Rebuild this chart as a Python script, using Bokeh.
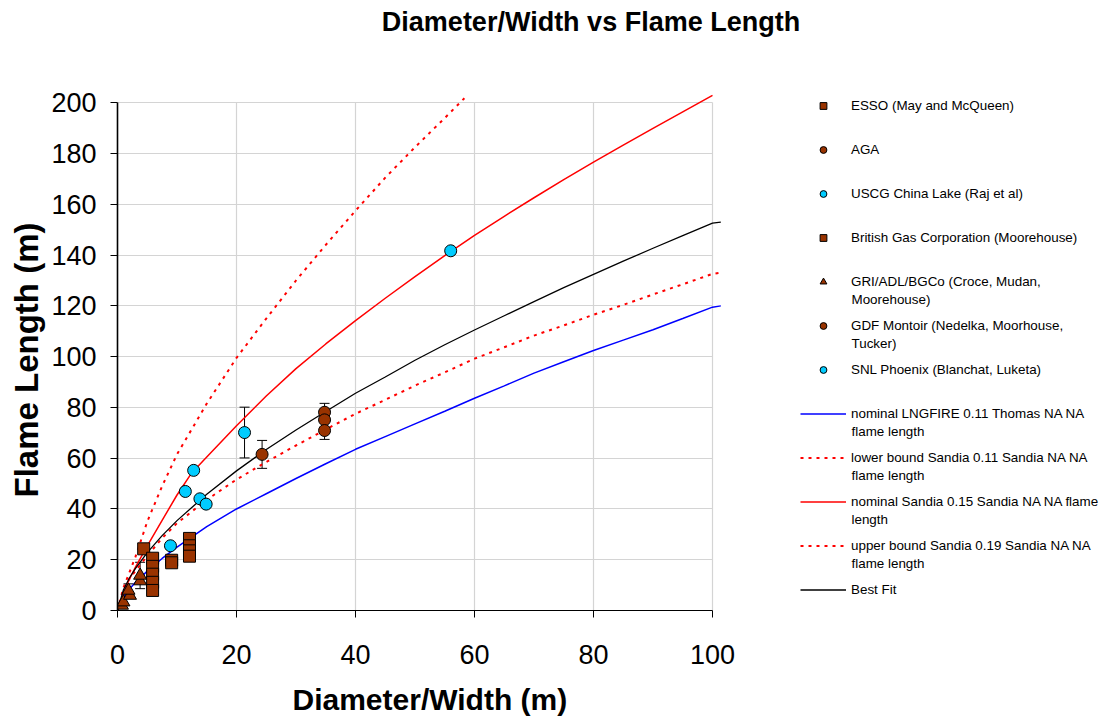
from bokeh.plotting import figure
from bokeh.models import (Range1d, FixedTicker, Legend, LegendItem, Label, Title,
                          Whisker, TeeHead, ColumnDataSource, Grid)
from bokeh.embed import file_html
from bokeh.resources import INLINE

# ---------------- experimental data: diameter/width (m), flame length (m) ----------------
esso_d = [4.4, 5.9, 5.9, 5.9, 5.9, 5.9, 9.1, 9.1]
esso_l = [24.3, 20.6, 17.4, 14.3, 11.1, 7.9, 19.8, 18.8]

aga_d = [24.3]
aga_l = [61.5]
aga_err = [5.5]

uscg_d = [8.9, 11.4, 12.8, 13.85, 14.9]
uscg_l = [25.5, 46.9, 55.2, 44.0, 41.9]

bgc_d = [12.1, 12.1, 12.1, 12.1]
bgc_l = [28.4, 25.5, 23.5, 21.4]

gri_d = [0.75, 1.0, 2.1, 1.85, 3.8, 3.8]
gri_l = [2.0, 3.3, 5.9, 7.9, 11.6, 13.8]
gri_err = [None, None, None, 2.6, None, 5.2]

gdf_d = [34.8, 34.8, 34.8]
gdf_l = [78.1, 75.1, 70.9]
gdf_err = [3.5, 3.5, 3.5]

snl_d = [21.35, 56.0]
snl_l = [70.1, 141.7]
snl_err = [10.0, None]

# ---------------- model curves ----------------
curve_d = [0, 1, 2, 3, 5, 7.5, 10, 15, 20, 25, 30, 35, 40, 45, 50, 55, 60,
           65, 70, 75, 80, 85, 90, 95, 100, 101.4]
lngfire_nominal = [0, 5.3, 8.5, 11, 15.5, 20.5, 25, 33, 40, 46, 52, 57.8, 63.5,
                   68.5, 73.5, 78.5, 83.6, 88.5, 93.5, 98, 102.4, 106.5, 110.6,
                   115, 119.5, 120]
sandia_lower = [0, 8, 12.5, 15.5, 21.5, 28.5, 34.4, 43.6, 51.6, 58.5, 65, 71.3,
                77.5, 83, 88.6, 93.8, 99.2, 103.7, 108.3, 112.3, 116.5, 120.4,
                124.5, 128.5, 132.6, 133.1]
best_fit = [0, 8.2, 12.8, 16.5, 22.8, 29.5, 35.4, 45.8, 55, 63.4, 71.1, 78.4,
            85.6, 92, 98.6, 104.7, 110.5, 116.1, 121.7, 127.2, 132.4, 137.6, 142.7,
            147.7, 152.6, 153]

sandia_nominal_d = [0, 1, 2, 3, 5, 7.5, 10, 12.5, 15, 20, 25, 30, 35, 40, 45,
                    50, 55, 60, 65, 70, 75, 80, 85, 90, 95, 100]
sandia_nominal = [0, 7, 12.3, 17, 25.5, 35.5, 45.5, 54.3, 60.5, 72.8, 84.5, 95.3,
                  105, 114.2, 123, 131.5, 139.8, 147.8, 155.3, 162.6, 169.7,
                  176.6, 183.3, 189.9, 196.4, 202.9]

sandia_upper_d = [0, 1, 2, 3, 5, 7.5, 10, 15, 20, 25, 30, 35, 40, 45, 50, 55, 58.3]
sandia_upper = [0, 9, 15, 21, 35, 49, 61.5, 81.5, 99.5, 115, 130, 144, 157.5,
                170.5, 182.5, 194, 201.8]

x_ticks = [0, 20, 40, 60, 80, 100]
y_ticks = [0, 20, 40, 60, 80, 100, 120, 140, 160, 180, 200]

title_text = "Diameter/Width vs Flame Length"
x_title = "Diameter/Width (m)"
y_title = "Flame Length (m)"

BROWN = "#993300"
CYAN = "#00ccff"
FONT = "Liberation Sans"

# page and plotting-area geometry (px); the frame spans to the right edge so the
# legend, which sits to the right of the axes, is drawn inside it
W, H = 1103, 716
LEFT, BOTTOM = 117, 106
PX_PER_X, PX_PER_Y = 5.95, 2.5385
frame_w, frame_h = W - LEFT, H - BOTTOM

p = figure(width=W, height=H, title=None,
           x_range=Range1d(0, frame_w / PX_PER_X),
           y_range=Range1d(0, frame_h / PX_PER_Y),
           output_backend="svg", toolbar_location=None,
           min_border_left=LEFT, min_border_right=0,
           min_border_top=0, min_border_bottom=BOTTOM)
p.outline_line_color = None
p.background_fill_color = "white"
p.border_fill_color = "white"

# axes
p.xaxis.ticker = FixedTicker(ticks=x_ticks)
p.yaxis.ticker = FixedTicker(ticks=y_ticks)
p.xaxis.bounds = (x_ticks[0], x_ticks[-1])
p.yaxis.bounds = (y_ticks[0], y_ticks[-1])
for ax in (p.xaxis[0], p.yaxis[0]):
    ax.axis_line_color = "black"
    ax.major_tick_line_color = "black"
    ax.minor_tick_line_color = None
    ax.major_tick_in = 0
    ax.major_tick_out = 7
    ax.major_label_text_font = FONT
    ax.major_label_text_font_size = "27px"
    ax.major_label_text_color = "black"
p.yaxis.axis_line_width = 1.6
p.xaxis.axis_line_width = 1.2
p.xaxis.major_label_standoff = 27
p.yaxis.major_label_standoff = 14

# axis titles, anchored at their starting edge
x_title_kw = dict(text=x_title, align="left", vertical_align="middle",
                  offset=292 - LEFT, standoff=0, text_font=FONT,
                  text_font_size="30px", text_font_style="bold",
                  text_color="black")
if "padding" in Title.properties():
    x_title_kw["padding"] = dict(left=0, right=0, top=15, bottom=0)
p.add_layout(Title(**x_title_kw), "below")
p.add_layout(Title(text=y_title, align="left", vertical_align="middle",
                   offset=frame_h - 497, standoff=6,
                   text_font=FONT, text_font_size="33px",
                   text_font_style="bold", text_color="black"), "left")

# grid, limited to the axes' extent
p.xgrid.ticker = FixedTicker(ticks=x_ticks)
p.ygrid.ticker = FixedTicker(ticks=y_ticks)
GRID_COLOR = "#d4d4d4"
if "cross_bounds" in Grid.properties():
    for g in (p.xgrid[0], p.ygrid[0]):
        g.grid_line_color = GRID_COLOR
        g.grid_line_width = 1.2
    p.xgrid.cross_bounds = (y_ticks[0], y_ticks[-1])
    p.ygrid.cross_bounds = (x_ticks[0], x_ticks[-1])
else:
    p.xgrid.grid_line_color = None
    p.ygrid.grid_line_color = None
    p.segment(x0=x_ticks[1:], y0=[y_ticks[0]] * (len(x_ticks) - 1),
              x1=x_ticks[1:], y1=[y_ticks[-1]] * (len(x_ticks) - 1),
              line_color=GRID_COLOR, line_width=1.2, level="underlay")
    p.segment(x0=[x_ticks[0]] * (len(y_ticks) - 1), y0=y_ticks[1:],
              x1=[x_ticks[-1]] * (len(y_ticks) - 1), y1=y_ticks[1:],
              line_color=GRID_COLOR, line_width=1.2, level="underlay")

# error bars (drawn beneath markers)
err_x, err_lo, err_hi = [], [], []
for ds, ls, es in ((aga_d, aga_l, aga_err), (gri_d, gri_l, gri_err),
                   (gdf_d, gdf_l, gdf_err), (snl_d, snl_l, snl_err)):
    for d, l, e in zip(ds, ls, es):
        if e is not None:
            err_x.append(d)
            err_lo.append(l - e)
            err_hi.append(l + e)
err_src = ColumnDataSource(dict(x=err_x, lower=err_lo, upper=err_hi))
whisk = Whisker(source=err_src, base="x", lower="lower", upper="upper",
                dimension="height", line_color="black", line_width=1,
                level="underlay",
                upper_head=TeeHead(size=10, line_color="black", line_width=1),
                lower_head=TeeHead(size=10, line_color="black", line_width=1))
p.add_layout(whisk)

# model curves
r_lng = p.line(curve_d, lngfire_nominal, line_color="blue", line_width=1.5)
r_low = p.line(curve_d, sandia_lower, line_color="red", line_width=2,
               line_dash="3 5")
r_nom = p.line(sandia_nominal_d, sandia_nominal, line_color="red", line_width=1.5)
r_up = p.line(sandia_upper_d, sandia_upper, line_color="red", line_width=2,
              line_dash="3 5")
r_fit = p.line(curve_d, best_fit, line_color="black", line_width=1.3)

# experimental points
mk = dict(line_color="black", line_width=1)
r_esso = p.scatter(esso_d, esso_l, marker="square", size=12, fill_color=BROWN, **mk)
r_aga = p.scatter(aga_d, aga_l, marker="circle", size=12, fill_color=BROWN, **mk)
r_uscg = p.scatter(uscg_d, uscg_l, marker="circle", size=12, fill_color=CYAN, **mk)
r_bgc = p.scatter(bgc_d, bgc_l, marker="square", size=12, fill_color=BROWN, **mk)
r_gri = p.scatter(gri_d, gri_l, marker="triangle", size=13, fill_color=BROWN, **mk)
r_gdf = p.scatter(gdf_d, gdf_l, marker="circle", size=12, fill_color=BROWN, **mk)
r_snl = p.scatter(snl_d, snl_l, marker="circle", size=12, fill_color=CYAN, **mk)

# legend: first text line in the legend, continuation lines as labels
entries = [
    ("ESSO (May and McQueen)", None, r_esso),
    ("AGA", None, r_aga),
    ("USCG China Lake (Raj et al)", None, r_uscg),
    ("British Gas Corporation (Moorehouse)", None, r_bgc),
    ("GRI/ADL/BGCo (Croce, Mudan,", "Moorehouse)", r_gri),
    ("GDF Montoir (Nedelka, Moorhouse,", "Tucker)", r_gdf),
    ("SNL Phoenix (Blanchat, Luketa)", None, r_snl),
    ("nominal LNGFIRE 0.11 Thomas NA NA", "flame length", r_lng),
    ("lower bound Sandia 0.11 Sandia NA NA", "flame length", r_low),
    ("nominal Sandia 0.15 Sandia NA NA flame", "length", r_nom),
    ("upper bound Sandia 0.19 Sandia NA NA", "flame length", r_up),
    ("Best Fit", None, r_fit),
]
ITEM_H, SPACING = 17, 27
GLYPH_W, STANDOFF = 46, 5
LEG_X, LEG_TOP = 800, 97
LEG_FONT = "13.4px"
n = len(entries)
leg_h = n * ITEM_H + (n - 1) * SPACING
legend = Legend(items=[LegendItem(label=a, renderers=[r]) for a, _, r in entries],
                location=(LEG_X - LEFT, frame_h - (LEG_TOP + leg_h)),
                orientation="vertical", glyph_width=GLYPH_W, glyph_height=ITEM_H,
                label_height=ITEM_H, label_standoff=STANDOFF, spacing=SPACING,
                padding=0, margin=0, border_line_color=None,
                background_fill_alpha=0, label_text_font=FONT,
                label_text_font_size=LEG_FONT, label_text_color="black")
p.add_layout(legend)

for i, (_, second, _) in enumerate(entries):
    if second:
        cy = LEG_TOP + i * (ITEM_H + SPACING) + ITEM_H / 2 + 17
        p.add_layout(Label(x=LEG_X + GLYPH_W + STANDOFF - LEFT, y=frame_h - cy,
                           x_units="screen", y_units="screen", text=second,
                           text_font=FONT, text_font_size=LEG_FONT,
                           text_color="black", text_baseline="middle",
                           text_align="left"))

# chart title
p.add_layout(Label(x=590.5 - LEFT, y=frame_h - 21, x_units="screen",
                   y_units="screen", text=title_text, text_font=FONT,
                   text_font_size="27px", text_font_style="bold",
                   text_color="black", text_align="center",
                   text_baseline="middle"))

open("out.html", "w").write(file_html(p, INLINE))
